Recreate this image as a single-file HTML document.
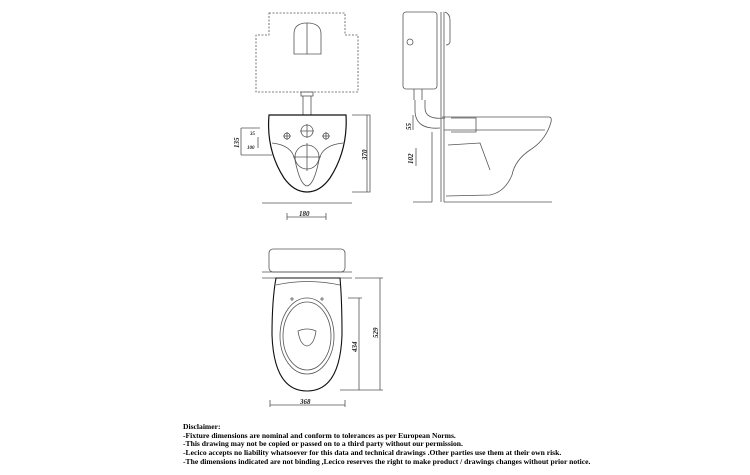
<!DOCTYPE html>
<html><head><meta charset="utf-8"><style>
body{margin:0;background:#fff;width:750px;height:475px;overflow:hidden;position:relative;font-family:"Liberation Serif",serif}
.d{position:absolute;left:183px;top:423px;font-size:7.6px;font-weight:bold;line-height:8.7px;color:#000;white-space:nowrap}
svg{position:absolute;left:0;top:0}
</style></head><body>
<svg width="750" height="475" viewBox="0 0 750 475" fill="none" stroke="#555" stroke-width="0.8">
<!-- front view tank -->
<path d="M269 13H345V35H358V92H256V35H269Z" stroke-dasharray="2 1.5"/>
<path d="M294 54V34Q294 23 307 23Q321 23 321 34V54Z"/>
<line x1="307" y1="23" x2="307" y2="54"/>
<rect x="301" y="92" width="12" height="4"/>
<path d="M303 96V115M311 96V115"/>
<!-- bowl front -->
<path d="M269 115H346Q348 150 330 178Q320 192 307 192Q294 192 284 178Q266 150 269 115Z" stroke="#111" stroke-width="1.2"/>
<path d="M272 143Q292 145 295 160Q300 185 307 186Q314 185 319 160Q322 145 343 143"/>
<circle cx="307" cy="131" r="6"/><circle cx="287" cy="136" r="3"/><circle cx="326" cy="136" r="3"/>
<circle cx="307" cy="157" r="12"/>
<path d="M300 131H314M307 124V138M283 136H291M287 132V140M322 136H330M326 132V140M293 157H321M307 143V171"/>
<path d="M352 115H370V192H352M367 115V192M241 128H260M241 155H272M241 128V155M258 137V148"/>
<line x1="262" y1="203" x2="352" y2="203"/>
<path d="M287 217H326M287 213V220M326 213V220"/>
<!-- side view -->
<rect x="403" y="12" width="34" height="77" rx="3"/>
<path d="M441 12V202M444 12V202M432 132V202M413 202H432M444 202H552"/>
<path d="M445 12Q450 14 450 20V42Q449 45 446 45"/>
<circle cx="410" cy="42" r="3"/>
<path d="M414 89V100M422 89V100M415 100V110Q415 130 440 128M425 100V108Q425 120 445 118"/>
<path d="M442 117H549Q552 117 551 122Q546 140 530 150Q515 160 512 175Q505 192 490 195L446 196"/>
<path d="M444 130H545M451 118H476V132H451M448 145L480 143L490 170"/>
<path d="M413 115V130M416 148V166"/>
<!-- top view -->
<rect x="269" y="249" width="76" height="23" rx="4"/>
<path d="M262 272H352M262 278H352"/>
<path d="M276 278H340Q342 300 342 335Q340 391 307 391Q274 391 272 335Q272 300 276 278Z" stroke="#111" stroke-width="1.1"/>
<path d="M276 285Q307 278 340 285"/>
<ellipse cx="307" cy="336" rx="27" ry="38"/><ellipse cx="307" cy="336" rx="24" ry="34"/>
<path d="M298 331Q307 327 316 331Q314 345 307 346Q300 345 298 331Z"/>
<path d="M290 299H294M292 297V301M320 299H324M322 297V301"/>
<path d="M355 278H383M380 278V390M348 298H362M359 298V390M340 390H383"/>
<path d="M270 405H345M270 400V407M345 400V407"/>
<g fill="#222" stroke="none" font-family="Liberation Serif,serif" font-style="italic" font-weight="bold" font-size="7">
<text x="299" y="216">180</text><text x="300" y="404">368</text>
<text transform="translate(367,160) rotate(-90)">370</text>
<text transform="translate(239,148) rotate(-90)">135</text>
<text x="250" y="135" font-size="5">35</text><text x="247" y="149" font-size="5">100</text>
<text transform="translate(411,130) rotate(-90)">55</text>
<text transform="translate(413,164) rotate(-90)">102</text>
<text transform="translate(378,338) rotate(-90)">529</text>
<text transform="translate(357,352) rotate(-90)">434</text>
</g>
</svg>
<div class="d">Disclaimer:<br>-Fixture dimensions are nominal and conform to tolerances as per European Norms.<br>-This drawing may not be copied or passed on to a third party without our permission.<br>-Lecico accepts no liability whatsoever for this data and technical drawings .Other parties use them at their own risk.<br>-The dimensions indicated are not binding ,Lecico reserves the right to make product / drawings changes without prior notice.</div>
</body></html>
